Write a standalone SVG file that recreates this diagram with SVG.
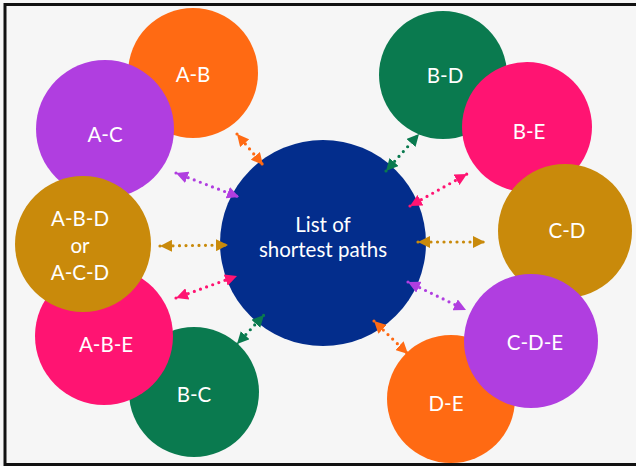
<svg xmlns="http://www.w3.org/2000/svg" width="636" height="466" viewBox="0 0 636 466">
<style>
.lbl{font-family:Lato,"Open Sans",sans-serif;font-size:20.5px;fill:#ffffff;text-anchor:middle;dominant-baseline:central}
.con{fill:none;stroke-width:3.2;stroke-linecap:round;stroke-dasharray:0 6.5}
</style>
<defs>
<marker id="m-or" viewBox="0 0 10 10" refX="10" refY="5" markerWidth="12" markerHeight="12" markerUnits="userSpaceOnUse" orient="auto-start-reverse"><path d="M0,0L10,5L0,10Z" fill="#ff6a13"/></marker>
<marker id="m-pu" viewBox="0 0 10 10" refX="10" refY="5" markerWidth="12" markerHeight="12" markerUnits="userSpaceOnUse" orient="auto-start-reverse"><path d="M0,0L10,5L0,10Z" fill="#b03ee0"/></marker>
<marker id="m-go" viewBox="0 0 10 10" refX="10" refY="5" markerWidth="12" markerHeight="12" markerUnits="userSpaceOnUse" orient="auto-start-reverse"><path d="M0,0L10,5L0,10Z" fill="#c98a0b"/></marker>
<marker id="m-pk" viewBox="0 0 10 10" refX="10" refY="5" markerWidth="12" markerHeight="12" markerUnits="userSpaceOnUse" orient="auto-start-reverse"><path d="M0,0L10,5L0,10Z" fill="#ff1472"/></marker>
<marker id="m-gr" viewBox="0 0 10 10" refX="10" refY="5" markerWidth="12" markerHeight="12" markerUnits="userSpaceOnUse" orient="auto-start-reverse"><path d="M0,0L10,5L0,10Z" fill="#0a7a4f"/></marker>
</defs>
<rect x="0" y="0" width="636" height="466" fill="#f6f6f6"/>
<rect x="5" y="4.5" width="660" height="460" fill="none" stroke="#111" stroke-width="3"/>

<g id="node-AB"><circle cx="193" cy="73" r="65" fill="#ff6a13"/><text class="lbl" x="193" y="74">A-B</text></g>
<g id="node-AC"><circle cx="105" cy="129" r="69" fill="#b03ee0"/><text class="lbl" x="105" y="134">A-C</text></g>
<g id="node-BC"><circle cx="194" cy="392" r="65" fill="#0a7a4f"/><text class="lbl" x="194" y="394">B-C</text></g>
<g id="node-ABE"><circle cx="104" cy="336" r="69" fill="#ff1472"/><text class="lbl" x="106" y="344">A-B-E</text></g>
<g id="node-ABD"><circle cx="83" cy="244" r="68" fill="#c98a0b"/><text class="lbl" x="80" y="218">A-B-D</text><text class="lbl" x="80" y="245">or</text><text class="lbl" x="80" y="272">A-C-D</text></g>

<g id="node-BD"><circle cx="443" cy="75" r="64" fill="#0a7a4f"/><text class="lbl" x="445" y="75">B-D</text></g>
<g id="node-BE"><circle cx="527" cy="127" r="65" fill="#ff1472"/><text class="lbl" x="529" y="131">B-E</text></g>
<g id="node-CD"><circle cx="565" cy="231" r="67" fill="#c98a0b"/><text class="lbl" x="567" y="230">C-D</text></g>
<g id="node-DE"><circle cx="451" cy="399" r="64" fill="#ff6a13"/><text class="lbl" x="446" y="403">D-E</text></g>
<g id="node-CDE"><circle cx="531" cy="341" r="67" fill="#b03ee0"/><text class="lbl" x="535" y="342">C-D-E</text></g>

<g id="node-center"><circle cx="323" cy="243" r="103" fill="#032d8c"/><text class="lbl" x="323" y="224">List of</text><text class="lbl" x="323" y="249">shortest paths</text></g>

<g id="connectors">
<line class="con" stroke="#ff6a13" x1="237" y1="134" x2="263" y2="165" marker-start="url(#m-or)" marker-end="url(#m-or)"/>
<line class="con" stroke="#b03ee0" x1="176" y1="173" x2="239" y2="197" marker-start="url(#m-pu)" marker-end="url(#m-pu)"/>
<line class="con" stroke="#c98a0b" x1="160" y1="246" x2="228" y2="245" marker-start="url(#m-go)" marker-end="url(#m-go)"/>
<line class="con" stroke="#ff1472" x1="176" y1="298" x2="237" y2="276" marker-start="url(#m-pk)" marker-end="url(#m-pk)"/>
<line class="con" stroke="#0a7a4f" x1="237" y1="344" x2="264" y2="315" marker-start="url(#m-gr)" marker-end="url(#m-gr)"/>
<line class="con" stroke="#0a7a4f" x1="386" y1="171" x2="419" y2="134" marker-start="url(#m-gr)" marker-end="url(#m-gr)"/>
<line class="con" stroke="#ff1472" x1="410" y1="206" x2="467" y2="174" marker-start="url(#m-pk)" marker-end="url(#m-pk)"/>
<line class="con" stroke="#c98a0b" x1="418" y1="242" x2="485" y2="242" marker-start="url(#m-go)" marker-end="url(#m-go)"/>
<line class="con" stroke="#b03ee0" x1="408" y1="282" x2="466" y2="310" marker-start="url(#m-pu)" marker-end="url(#m-pu)"/>
<line class="con" stroke="#ff6a13" x1="374" y1="321" x2="408" y2="354" marker-start="url(#m-or)" marker-end="url(#m-or)"/>
</g>
</svg>
